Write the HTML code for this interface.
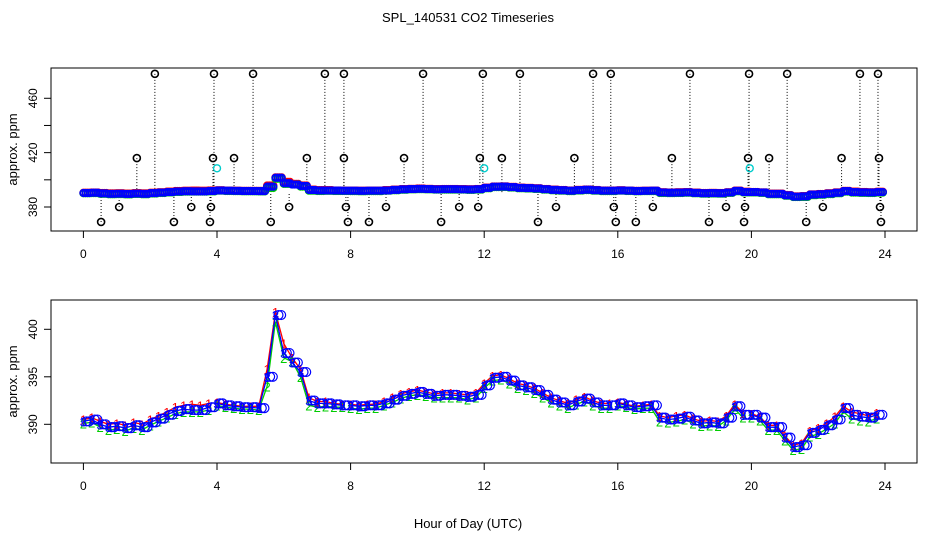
<!DOCTYPE html>
<html><head><meta charset="utf-8"><style>
body{margin:0;background:#fff;}
svg text{font-family:"Liberation Sans",sans-serif;}
</style></head><body>
<svg id="chart" width="936" height="540" viewBox="0 0 936 540" xmlns="http://www.w3.org/2000/svg">
<rect width="936" height="540" fill="#fff"/>
<text x="468" y="22" font-size="13" text-anchor="middle">SPL_140531  CO2 Timeseries</text>
<text x="468" y="528" font-size="13" text-anchor="middle">Hour of Day (UTC)</text>
<g id="topPanel"></g>
<g id="botPanel"></g>
</svg>
<script>
const hours = [0,0.25,0.5,0.75,1,1.25,1.5,1.75,2,2.25,2.5,2.75,3,3.25,3.5,3.75,null,4,4.25,4.5,4.75,5,5.25,5.5,5.75,6,6.25,6.5,6.75,7,7.25,7.5,7.75,null,8,8.25,8.5,8.75,9,9.25,9.5,9.75,10,10.25,10.5,10.75,11,11.25,11.5,11.75,12,12.25,12.5,12.75,13,13.25,13.5,13.75,14,14.25,14.5,14.75,15,15.25,15.5,15.75,null,16,16.25,16.5,16.75,17,17.25,17.5,17.75,18,18.25,18.5,18.75,19,19.25,19.5,19.75,null,20,20.25,20.5,20.75,21,21.25,21.5,21.75,22,22.25,22.5,22.75,23,23.25,23.5,23.75];
const blueVals = [390.3,390.5,390.0,389.7,389.8,389.6,389.9,389.7,390.2,390.6,391.0,391.4,391.6,391.5,391.5,391.8,null,392.2,392.0,391.9,391.8,391.8,391.7,395.0,401.5,397.5,396.5,395.5,392.5,392.2,392.2,392.1,392.0,null,392.0,391.9,392.0,392.0,392.2,392.6,393.0,393.2,393.4,393.2,393.0,393.1,393.1,393.0,392.9,393.1,394.1,394.9,395.0,394.6,394.1,393.9,393.6,393.1,392.6,392.3,392.0,392.4,392.7,392.3,392.0,392.0,null,392.2,392.0,391.8,391.9,392.0,390.7,390.5,390.6,390.8,390.4,390.1,390.2,390.1,390.7,391.9,391.0,null,391.0,390.7,389.7,389.7,388.6,387.6,387.8,389.1,389.4,389.9,390.5,391.7,391.0,390.8,390.7,391.0];
const redVals = [390.5,390.7,390.3,390.0,390.1,389.9,390.2,390.0,390.5,390.9,391.3,391.8,392.0,392.1,392.0,392.2,null,392.3,392.1,392.0,391.9,391.9,391.9,395.8,401.8,398.5,397.0,395.8,392.8,392.4,392.4,392.2,392.1,null,392.1,392.0,392.1,392.1,392.4,392.8,393.2,393.4,393.6,393.4,393.2,393.3,393.3,393.2,393.1,393.3,394.3,395.1,395.2,394.8,394.3,394.1,393.8,393.3,392.8,392.5,392.2,392.6,392.9,392.5,392.2,392.2,null,392.3,392.1,391.9,392.0,392.1,390.9,390.7,390.9,391.0,390.6,390.3,390.4,390.3,390.9,392.1,391.2,null,391.1,390.8,389.9,389.9,388.8,387.8,388.0,389.3,389.6,390.1,390.8,391.9,391.3,391.1,390.9,391.2];
const greenVals = [390.1,390.2,389.7,389.4,389.5,389.3,389.6,389.4,389.9,390.3,390.7,391.1,391.3,391.3,391.3,391.5,null,392.0,391.8,391.7,391.6,391.6,391.5,394.0,400.8,397.0,396.6,395.0,392.0,391.8,391.9,391.8,391.8,null,391.7,391.6,391.7,391.7,392.0,392.3,392.7,393.0,393.1,393.0,392.8,392.8,392.8,392.8,392.6,392.8,393.8,394.6,394.7,394.3,393.8,393.6,393.3,392.8,392.3,392.0,391.7,392.1,392.4,392.0,391.7,391.7,null,392.0,391.8,391.6,391.7,391.7,390.3,390.2,390.3,390.5,390.1,389.8,389.9,389.8,390.4,391.6,390.7,null,390.7,390.4,389.4,389.4,388.3,387.3,387.4,388.7,389.0,389.5,390.1,391.3,390.6,390.4,390.3,390.6];
const outlierHours = [2.14,3.91,5.08,7.23,7.8,10.17,11.96,13.07,15.26,15.79,18.16,19.93,21.07,23.25,23.79, 1.6,3.88,4.51,6.69,7.8,9.6,11.87,12.53,14.7,17.62,19.9,20.53,22.7,23.82, 1.07,3.23,3.82,6.16,7.86,9.06,11.25,11.82,14.15,15.88,17.05,19.24,19.81,22.14,23.85, 0.53,2.71,3.79,5.61,7.92,8.55,10.71,13.61,15.94,16.54,18.73,19.78,21.64,23.88];
const outlierVals = [478,478,478,478,478,478,478,478,478,478,478,478,478,478,478, 416,416,416,416,416,416,416,416,416,416,416,416,416,416, 380,380,380,380,380,380,380,380,380,380,380,380,380,380,380, 369,369,369,369,369,369,369,369,369,369,369,369,369,369];
const cyanHours = [4.0,12.0,19.95];
const cyanVals = [408.5,408.5,408.5];
const xTicks = [0,4,8,12,16,20,24];
const topYTicks = [380,400,420,440,460];
const topYLabels = ["380","","420","","460"];
const botYTicks = [390,395,400];
const botYLabels = ["390","395","400"];

const NS="http://www.w3.org/2000/svg";
function mk(p,t,a){const e=document.createElementNS(NS,t);for(const k in a)e.setAttribute(k,a[k]);p.appendChild(e);return e;}
const xs = h => 83.4 + 33.4*h;
const yTop = v => 207 - (v-380)*1.359;
const yBot = v => 424.3 - (v-390)*9.5;

function frame(g, y0, y1, yTicks, yLabels, ys){
  const r = mk(g,'rect',{x:51,y:y0,width:866,height:y1-y0,fill:'none',stroke:'#000','stroke-width':1});
  
  
  xTicks.forEach(t=>{
    const x=xs(t);
    const l=mk(g,'line',{x1:x,x2:x,y1:y1,y2:y1+7,stroke:'#000'});
    
    
    const tx=mk(g,'text',{x:x,y:y1+27,'font-size':12,'text-anchor':'middle'});
    tx.textContent=t;
    
    
  });
  yTicks.forEach((t,i)=>{
    const y=ys(t);
    const l=mk(g,'line',{x1:44,x2:51,y1:y,y2:y,stroke:'#000'});
    
    
    if(yLabels[i]){
      const tx=mk(g,'text',{x:37,y:y,'font-size':12,'text-anchor':'middle',transform:`rotate(-90 37 ${y})`});
      tx.textContent=yLabels[i];
      
      
    }
  });
  const yl=(y0+y1)/2;
  const t=mk(g,'text',{x:17,y:yl,'font-size':13,'text-anchor':'middle',transform:`rotate(-90 17 ${yl})`});
  t.textContent='approx. ppm';
  
  
}

function pathD(vals, ys){
  let d='',pen=false;
  hours.forEach((h,i)=>{
    if(h===null||vals[i]===null){pen=false;return;}
    d+=(pen?'L':'M')+xs(h).toFixed(1)+' '+ys(vals[i]).toFixed(1);pen=true;
  });
  return d;
}

const topG=document.getElementById('topPanel');
frame(topG,68,231,topYTicks,topYLabels,yTop);
outlierHours.forEach((h,i)=>{
  const l=mk(topG,'line',{x1:xs(h),x2:xs(h),y1:yTop(outlierVals[i]),y2:yTop(390),stroke:'#000','stroke-dasharray':'1 2','stroke-width':1});
  
  
});
[['#f00',redVals,'red'],['#0c0',greenVals,'green'],['#00f',blueVals,'blue']].forEach(([c,v,n])=>{
  hours.forEach((h,i)=>{
    if(h===null)return;
    [0,0.0625,0.125,0.1875].forEach(dx=>{
      const ci=mk(topG,'circle',{cx:xs(h+dx),cy:yTop(v[i]),r:3.3,fill:'none',stroke:c,'stroke-width':1.6});
      
      
    });
  });
});
outlierHours.forEach((h,i)=>{
  const c=mk(topG,'circle',{cx:xs(h),cy:yTop(outlierVals[i]),r:3.5,fill:'none',stroke:'#000','stroke-width':1.6});
  
  
});
cyanHours.forEach((h,i)=>{
  const c=mk(topG,'circle',{cx:xs(h),cy:yTop(cyanVals[i]),r:3.5,fill:'none',stroke:'#0cc','stroke-width':1.4});
  
  
});

const botG=document.getElementById('botPanel');
frame(botG,300,463,botYTicks,botYLabels,yBot);
[['#f00',redVals,'1','red'],['#0c0',greenVals,'2','green'],['#00f',blueVals,'3','blue']].forEach(([c,v,ch,n])=>{
  const p=mk(botG,'path',{d:pathD(v,yBot),fill:'none',stroke:c,'stroke-width':1.3});
  
  
  hours.forEach((h,i)=>{
    if(h===null)return;
    const t=mk(botG,'text',{x:xs(h),y:yBot(v[i])+5,'font-size':13,'text-anchor':'middle',fill:c});
    t.textContent=ch;
    
    
    if(n==='blue'){
      [0.09,0.17].forEach(dx=>{
        const o=mk(botG,'circle',{cx:xs(h+dx),cy:yBot(v[i]),r:4.5,fill:'none',stroke:c,'stroke-width':1.2});
        
        
      });
    }
  });
});
</script>
</body></html>
